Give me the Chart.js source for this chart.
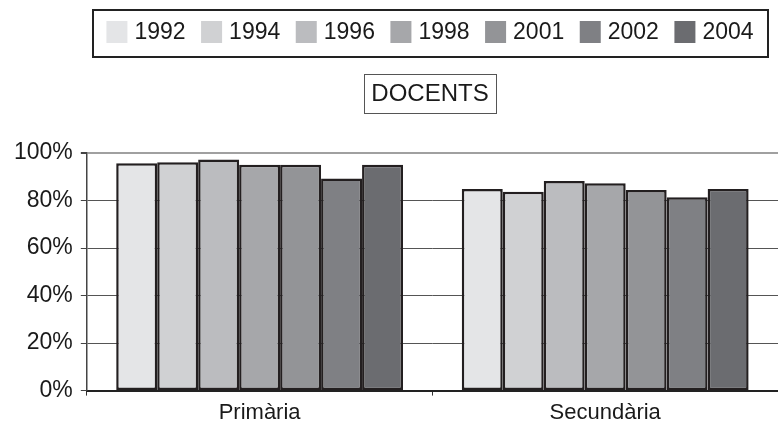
<!DOCTYPE html>
<html>
<head>
<meta charset="utf-8">
<script src="https://cdn.jsdelivr.net/npm/chart.js@4/dist/chart.umd.min.js"></script>
<style>
  html, body { margin: 0; padding: 0; background: #fff; }
  #chart { display: block; }
</style>
</head>
<body>
<canvas id="chart" width="778" height="427"></canvas>
<script>
// --- Dados ---
const categories = ['Primària', 'Secundària'];
const years = ['1992', '1994', '1996', '1998', '2001', '2002', '2004'];
const primaria = [95.7, 96.1, 97.3, 95.1, 95.1, 89.3, 95.1];
const secundaria = [84.8, 83.7, 88.2, 87.3, 84.4, 81.4, 84.8];
const yTicks = [0, 20, 40, 60, 80, 100];
const title = 'DOCENTS';

const colors = ['#e4e5e7', '#d0d1d3', '#bbbcbf', '#a6a7aa', '#939497', '#7f8084', '#6b6c70'];
const FONT = "'Liberation Sans', Arial, sans-serif";

// --- Legenda e título em caixas ---
const boxesPlugin = {
  id: 'boxes',
  afterDraw: chart => {
    const ctx = chart.ctx;
    ctx.save();

    // legenda
    ctx.font = `23px ${FONT}`;
    ctx.textBaseline = 'middle';
    const box = 21, gapText = 7, gapItem = 15.5;
    const items = chart.data.datasets.map(ds => ({
      label: ds.label, color: ds.backgroundColor, w: ctx.measureText(ds.label).width
    }));
    const total = items.reduce((s, it) => s + box + gapText + it.w + gapItem, 0) - gapItem;
    let x = 430 - total / 2;
    items.forEach(it => {
      ctx.fillStyle = it.color;
      ctx.fillRect(x, 21, box, 22);
      ctx.fillStyle = '#1a1a1a';
      ctx.textAlign = 'left';
      ctx.fillText(it.label, x + box + gapText, 33);
      x += box + gapText + it.w + gapItem;
    });
    ctx.strokeStyle = '#222';
    ctx.lineWidth = 2;
    ctx.strokeRect(93, 10, 675, 47);

    // título
    ctx.lineWidth = 1;
    ctx.strokeStyle = '#555';
    ctx.strokeRect(364.5, 74.5, 132, 39);
    ctx.font = `24px ${FONT}`;
    ctx.fillStyle = '#1a1a1a';
    ctx.textAlign = 'center';
    ctx.fillText(title, 430, 94);

    ctx.restore();
  }
};

// --- Gráfico ---
const datasets = years.map((y, i) => ({
  label: y,
  data: [primaria[i], secundaria[i]],
  backgroundColor: colors[i],
  borderColor: '#231f20',
  borderWidth: 2.5,
  borderSkipped: false
}));

new Chart(document.getElementById('chart'), {
  type: 'bar',
  data: { labels: categories, datasets },
  plugins: [boxesPlugin],
  options: {
    responsive: false,
    animation: false,
    devicePixelRatio: 1,
    categoryPercentage: 0.83,
    barPercentage: 1.0,
    layout: { padding: { top: 153, left: 6, right: -3, bottom: -3 } },
    plugins: {
      legend: { display: false },
      title: { display: false },
      tooltip: { enabled: false }
    },
    scales: {
      x: {
        grid: { display: true, drawOnChartArea: false, offset: true, tickLength: 5, color: '#333' },
        border: { color: '#222', width: 2 },
        ticks: { color: '#1a1a1a', padding: 4, font: { family: FONT, size: 22 } }
      },
      y: {
        min: 0,
        max: 100,
        afterBuildTicks: axis => { axis.ticks = yTicks.map(v => ({ value: v })); },
        grid: {
          color: c => c.tick && c.tick.value === 100 ? '#a0a0a0' : '#555',
          lineWidth: c => c.tick && c.tick.value === 100 ? 2 : 1,
          tickLength: 6,
          tickColor: '#444'
        },
        border: { color: '#444', width: 1.5 },
        ticks: {
          color: '#1a1a1a',
          padding: 8,
          font: { family: FONT, size: 23 },
          callback: v => v + '%'
        }
      }
    }
  }
});
</script>
</body>
</html>
